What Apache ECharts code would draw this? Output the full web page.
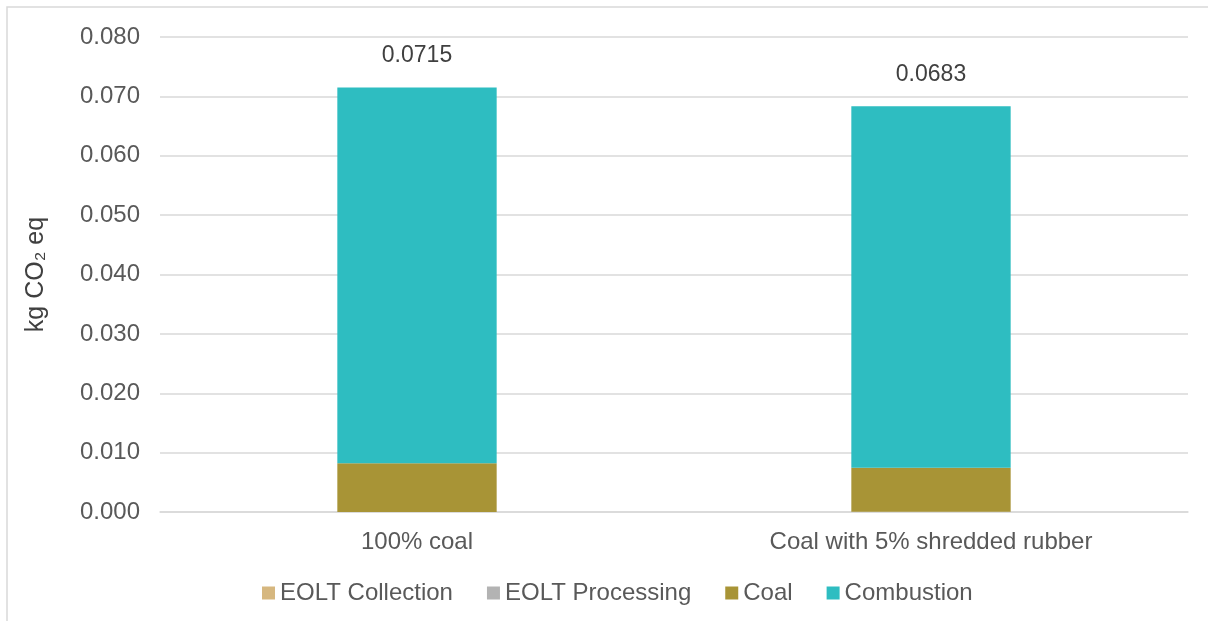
<!DOCTYPE html>
<html lang="en">
<head>
    <meta charset="UTF-8">
    <title>kg CO2 eq</title>
    <script src="https://cdn.jsdelivr.net/npm/echarts@6.0.0/dist/echarts.min.js"></script>
</head>
<body style="margin:0;background:#fff;">
    <div id="main" style="width: 1208px;height:621px;"></div>
    <script type="text/javascript">
        // chart data
        const categories = ['100% coal', 'Coal with 5% shredded rubber'];
        const eoltCollection = [0, 0.00002];
        const eoltProcessing = [0, 0.00002];
        const coal = [0.0082, 0.0074];
        const combustion = [0.0633, 0.0609];
        const totals = ['0.0715', '0.0683'];
        const yTicks = { min: 0, max: 0.08, interval: 0.01 };

        let myChart = echarts.init(document.getElementById('main'));
        const font = 'Liberation Sans, Arial, sans-serif';
        const gray = '#595959';

        function stackSeries(name, data, color) {
            return {
                name: name,
                type: 'bar',
                stack: 'total',
                barWidth: '31%',
                itemStyle: { color: color },
                data: data
            };
        }

        const series = [
            stackSeries('EOLT Collection', eoltCollection, '#d6b77f'),
            stackSeries('EOLT Processing', eoltProcessing, '#b3b3b3'),
            stackSeries('Coal', coal, '#a89436'),
            stackSeries('Combustion', combustion, '#2ebdc1')
        ];
        // total label on top of the stack
        series[3].label = {
            show: true,
            position: 'top',
            distance: 20,
            fontFamily: font,
            fontSize: 23,
            color: '#404040',
            formatter: p => totals[p.dataIndex]
        };

        let options = {
            animation: false,
            textStyle: { fontFamily: font },
            graphic: [{
                type: 'rect',
                shape: { x: 7, y: 7, width: 1400, height: 800 },
                style: { fill: 'none', stroke: '#d9d9d9', lineWidth: 1.5 },
                silent: true
            }],
            grid: { left: 160, right: 20, top: 37, bottom: 109 },
            legend: {
                bottom: 11,
                left: 257,
                itemWidth: 13,
                itemHeight: 13,
                itemGap: 34,
                icon: 'rect',
                textStyle: { fontSize: 24, color: gray, fontFamily: font },
                data: ['EOLT Collection', 'EOLT Processing', 'Coal', 'Combustion']
            },
            xAxis: {
                type: 'category',
                data: categories,
                axisTick: { show: false },
                axisLine: { lineStyle: { color: '#d9d9d9', width: 1.5 } },
                axisLabel: { fontSize: 24, color: gray, margin: 18, fontFamily: font }
            },
            yAxis: {
                type: 'value',
                min: yTicks.min,
                max: yTicks.max,
                interval: yTicks.interval,
                name: 'kg CO₂ eq',
                nameLocation: 'middle',
                nameGap: 111,
                nameTextStyle: { fontSize: 25, color: '#404040', fontFamily: font },
                axisLine: { show: false },
                axisTick: { show: false },
                axisLabel: {
                    fontSize: 24, color: gray, margin: 20, fontFamily: font,
                    formatter: v => v.toFixed(3)
                },
                splitLine: { lineStyle: { color: '#d9d9d9', width: 1.5 } }
            },
            series: series
        };

        myChart.setOption(options);
    </script>
</body>
</html>
